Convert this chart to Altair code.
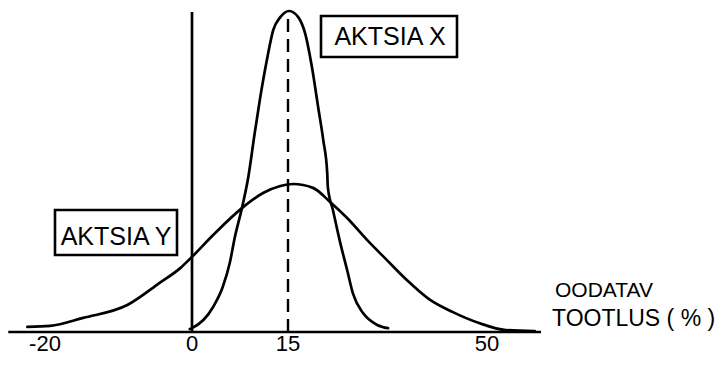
import altair as alt
import pandas as pd

# Expected return (%) vs. relative probability density
x_tootlus = [-0.3, 0.0, 3.3, 4.8, 5.9, 6.7, 7.8, 8.8, 9.8, 10.6, 11.7, 12.7, 13.8, 15.2,
             16.8, 18.0, 19.2, 20.3, 21.2, 21.9, 22.0, 22.9, 24.2, 25.4, 26.4, 28.2, 30.7, 32.6]
x_tihedus = [0.009, 0.012, 0.078, 0.140, 0.215, 0.296, 0.386, 0.483, 0.620, 0.723, 0.847, 0.941, 0.981, 1.0,
             0.981, 0.931, 0.826, 0.701, 0.598, 0.495, 0.452, 0.380, 0.277, 0.193, 0.121, 0.059, 0.022, 0.012]

y_tootlus = [-22.4, -19.3, -14.8, -8.8, -4.4, -1.6, 0.0, 3.3, 7.8, 11.1, 13.8, 15.9, 19.4, 22.4,
             25.4, 28.9, 32.4, 35.9, 40.0, 44.0, 48.6, 53.3, 58.4]
y_tihedus = [0.016, 0.019, 0.044, 0.084, 0.153, 0.199, 0.234, 0.302, 0.386, 0.433, 0.455, 0.461, 0.449, 0.405,
             0.355, 0.287, 0.224, 0.162, 0.100, 0.062, 0.028, 0.006, 0.003]

tick_values = [-20, 0, 15, 50]
tick_labels = ["-20", "0", "15", "50"]
baseline_extent = [-25.0, 59.5]
mean_return = 15
box_labels = ["AKTSIA X", "AKTSIA Y"]
axis_title = ["OODATAV", "TOOTLUS ( % )"]

FONT = "Liberation Sans"

curves = pd.concat([
    pd.DataFrame({"tootlus": x_tootlus, "tihedus": x_tihedus, "aktsia": "X"}),
    pd.DataFrame({"tootlus": y_tootlus, "tihedus": y_tihedus, "aktsia": "Y"}),
])

xs = alt.Scale(domain=[-20, 0, 15, 50], range=[37, 184, 280, 479], zero=False, nice=False)
ys = alt.Scale(domain=[0, 1], range=[324, 3], zero=False, nice=False)

X = lambda f: alt.X(f, type="quantitative", scale=xs, axis=None)
Y = lambda f: alt.Y(f, type="quantitative", scale=ys, axis=None)

lines = alt.Chart(curves).mark_line(
    color="black", strokeWidth=2.7, interpolate="monotone", strokeCap="round", strokeJoin="round"
).encode(x=X("tootlus"), y=Y("tihedus"), detail="aktsia:N")

base_df = pd.DataFrame({"x": [baseline_extent[0]], "x2": [baseline_extent[1]], "y": [0]})
baseline = alt.Chart(base_df).mark_rule(color="black", strokeWidth=2.7).encode(
    x=X("x"), x2="x2", y=Y("y"))

vaxis_df = pd.DataFrame({"x": [0], "y": [0], "y2": [0.997]})
vaxis = alt.Chart(vaxis_df).mark_rule(color="black", strokeWidth=2.7).encode(
    x=X("x"), y=Y("y"), y2="y2")

mean_df = pd.DataFrame({"x": [mean_return], "y": [0], "y2": [0.99]})
mean_rule = alt.Chart(mean_df).mark_rule(color="black", strokeWidth=2.4, strokeDash=[13, 7]).encode(
    x=X("x"), y=Y("y"), y2="y2")

ticks_df = pd.DataFrame({"v": tick_values, "label": tick_labels})
tick_text = alt.Chart(ticks_df).mark_text(
    font=FONT, fontSize=22, color="black", baseline="bottom", align="center"
).encode(x=X("v"), y=alt.value(348), text="label:N")

box_x = alt.Chart(pd.DataFrame({"t": [box_labels[0]]})).mark_rect(
    fill="white", stroke="black", strokeWidth=2.6
).encode(x=alt.value(313), x2=alt.value(449), y=alt.value(8), y2=alt.value(49))
box_x_text = alt.Chart(pd.DataFrame({"t": [box_labels[0]]})).mark_text(
    font=FONT, fontSize=25, color="black", align="center", baseline="middle"
).encode(x=alt.value(382), y=alt.value(29), text="t:N")

box_y = alt.Chart(pd.DataFrame({"t": [box_labels[1]]})).mark_rect(
    fill="white", stroke="black", strokeWidth=2.6
).encode(x=alt.value(47), x2=alt.value(169), y=alt.value(202), y2=alt.value(247))
box_y_text = alt.Chart(pd.DataFrame({"t": [box_labels[1]]})).mark_text(
    font=FONT, fontSize=25, color="black", align="center", baseline="middle"
).encode(x=alt.value(108), y=alt.value(229), text="t:N")

title1 = alt.Chart(pd.DataFrame({"t": [axis_title[0]]})).mark_text(
    font=FONT, fontSize=21, color="black", align="left", baseline="middle"
).encode(x=alt.value(547), y=alt.value(283), text="t:N")
title2 = alt.Chart(pd.DataFrame({"t": [axis_title[1]]})).mark_text(
    font=FONT, fontSize=23, color="black", align="left", baseline="middle"
).encode(x=alt.value(544), y=alt.value(311), text="t:N")

chart = alt.layer(
    baseline, vaxis, mean_rule, lines, tick_text,
    box_x, box_x_text, box_y, box_y_text, title1, title2
).properties(
    width=710, height=349,
    autosize=alt.AutoSizeParams(type="none"),
    padding=0,
    background="white",
).configure_view(stroke=None)

chart.save("out.html", embed_options={"renderer": "svg", "actions": False})
